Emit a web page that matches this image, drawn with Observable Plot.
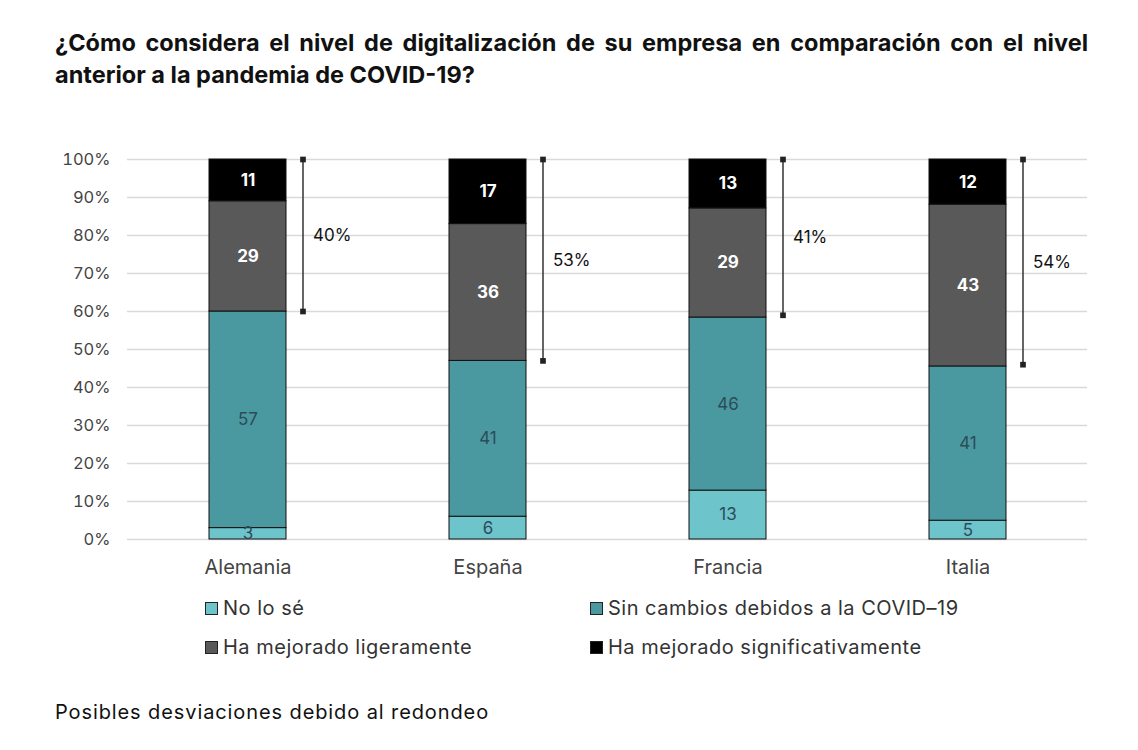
<!DOCTYPE html>
<html>
<head>
<meta charset="utf-8">
<script src="https://cdn.jsdelivr.net/npm/d3@7"></script>
<script src="https://cdn.jsdelivr.net/npm/@observablehq/plot@0.6"></script>
<style>
  html, body { margin: 0; padding: 0; background: #fff; }
  body { width: 1138px; height: 750px; position: relative; font-family: Inter, "Noto Sans", sans-serif; color: #111; overflow: hidden; }
  .title { position: absolute; left: 55px; top: 27px; width: 1033px; font-size: 23.5px; font-weight: 700; line-height: 32px; color: #111; }
  .title .l1 { text-align: justify; text-align-last: justify; white-space: nowrap; }
  #chart { position: absolute; left: 0; top: 130px; }
  .legend { position: absolute; left: 205px; top: 594px; display: grid; grid-template-columns: 385px 400px; row-gap: 11px; font-size: 20px; letter-spacing: 0.5px; color: #333; }
  .legend .item { display: flex; align-items: center; height: 28px; }
  .legend .sw { width: 11px; height: 11px; border: 1.5px solid #222; margin-right: 5px; }
  .footer { position: absolute; left: 55px; top: 700px; font-size: 20px; letter-spacing: 0.9px; color: #111; }
</style>
</head>
<body>
<div class="title">
  <div class="l1">¿Cómo considera el nivel de digitalización de su empresa en comparación con el nivel</div>
  <div>anterior a la pandemia de COVID-19?</div>
</div>
<div id="chart"></div>
<div class="legend" id="legend"></div>
<div class="footer">Posibles desviaciones debido al redondeo</div>
<script>
const countries = ["Alemania", "España", "Francia", "Italia"];
const categories = ["No lo sé", "Sin cambios debidos a la COVID–19", "Ha mejorado ligeramente", "Ha mejorado significativamente"];
const colors = ["#6dc4ca", "#4a99a1", "#595959", "#000000"];
const noLoSe = [3, 6, 13, 5];
const sinCambios = [57, 41, 46, 41];
const ligeramente = [29, 36, 29, 43];
const significativamente = [11, 17, 13, 12];
const bracketValues = [40, 53, 41, 54];
const yTicks = [0, 10, 20, 30, 40, 50, 60, 70, 80, 90, 100];

const series = [noLoSe, sinCambios, ligeramente, significativamente];
const data = [];
countries.forEach((c, i) => {
  categories.forEach((cat, j) => {
    data.push({country: c, category: cat, value: series[j][i], idx: j});
  });
});
const brackets = countries.map((c, i) => ({country: c, top: 1, bottom: 1 - bracketValues[i] / 100, mid: 1 - bracketValues[i] / 200, label: bracketValues[i] + "%"}));
const bracketEnds = brackets.flatMap(b => [{country: b.country, y: b.top}, {country: b.country, y: b.bottom}]);

const stackOpts = {x: "country", y: "value", z: "category", offset: "normalize", order: null};
const fmt = d => Math.round(d * 100) + "%";
const tickVals = yTicks.map(d => d / 100);

const chart = Plot.plot({
  width: 1138,
  height: 460,
  marginTop: 29,
  marginBottom: 51,
  marginLeft: 127,
  marginRight: 51,
  style: {fontFamily: "Inter, 'Noto Sans', sans-serif", background: "transparent"},
  x: {domain: countries, paddingInner: 0.68, paddingOuter: 0.34, label: null},
  y: {domain: [0, 1], label: null},
  color: {domain: categories, range: colors},
  marks: [
    Plot.gridY(tickVals, {stroke: "#d9d9d9", strokeOpacity: 1, strokeWidth: 1.5}),
    Plot.axisY(tickVals, {tickFormat: fmt, tickSize: 0, tickPadding: 17, fontSize: 16.5, fill: "#444", label: null}),
    Plot.axisX({tickSize: 0, tickPadding: 20, fontSize: 20, letterSpacing: "1px", fill: "#444", label: null}),
    Plot.barY(data, Plot.stackY({...stackOpts, fill: "category", stroke: "#111", strokeWidth: 1})),
    Plot.text(data, Plot.stackY({...stackOpts, text: d => d.idx < 2 ? String(d.value) : "", fill: "#2d4b58", fontSize: 17})),
    Plot.text(data, Plot.stackY({...stackOpts, text: d => d.idx >= 2 ? String(d.value) : "", fill: "#ffffff", fontSize: 17, fontWeight: 700})),
    Plot.ruleX(brackets, {x: "country", y1: "bottom", y2: "top", dx: 55, stroke: "#333", strokeWidth: 1.5}),
    Plot.dot(bracketEnds, {x: "country", y: "y", dx: 55, symbol: "square", r: 3.2, fill: "#222", stroke: "none"}),
    Plot.text(brackets, {x: "country", y: "mid", text: "label", dx: 65, textAnchor: "start", fontSize: 17, fill: "#111"})
  ]
});
document.getElementById("chart").appendChild(chart);

const legend = document.getElementById("legend");
categories.forEach((cat, j) => {
  const item = document.createElement("div");
  item.className = "item";
  const sw = document.createElement("span");
  sw.className = "sw";
  sw.style.background = colors[j];
  item.appendChild(sw);
  const t = document.createElement("span");
  t.textContent = cat;
  item.appendChild(t);
  legend.appendChild(item);
});
</script>
</body>
</html>
